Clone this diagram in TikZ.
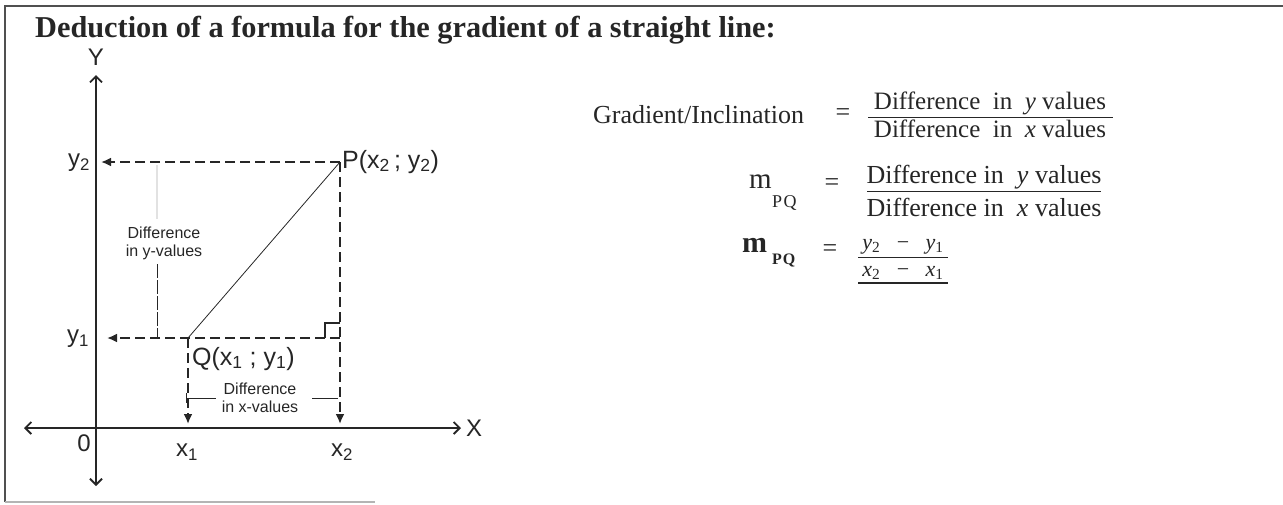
\documentclass[tikz,border=0pt]{standalone}
\usepackage{fontspec}
\setmainfont{Liberation Serif}
\newfontfamily\diagfont{Liberation Sans}
\usetikzlibrary{arrows.meta,positioning}
\definecolor{inkgrey}{HTML}{262626}
\definecolor{framegrey}{HTML}{505050}
\definecolor{fadegrey}{HTML}{E2E2E2}
\definecolor{edgegrey}{HTML}{B4B4B4}

\begin{document}
\begin{tikzpicture}[x=1pt, y=-1pt,
    every node/.style={text=inkgrey, inner sep=0pt},
    axislabel/.style={font=\diagfont\fontsize{24}{26}\selectfont},
    pointlabel/.style={font=\diagfont\fontsize{25}{27}\selectfont, anchor=base west},
    notelabel/.style={font=\diagfont\fontsize{16}{18}\selectfont, align=center},
    eqtext/.style={font=\fontsize{25}{28}\selectfont, anchor=base},
    axisline/.style={line width=1.8pt, inkgrey,
        {Straight Barb[length=6pt,width=12pt]}-{Straight Barb[length=6pt,width=12pt]}},
    dashline/.style={line width=2.3pt, inkgrey, dash pattern=on 10pt off 5pt,
        -{Latex[length=10pt,width=9pt]}},
    leader/.style={line width=0.8pt, inkgrey},
    fracbar/.style={line width=1pt, inkgrey},
]
\useasboundingbox (0,0) rectangle (1283,504);

% Frame
\draw[framegrey, line width=2.2pt] (5,502) -- (5,6) -- (1283,6);
\draw[edgegrey, line width=1.5pt] (5,502) -- (375,502);

% Heading
\node[anchor=base west, font=\bfseries\fontsize{30.3}{33}\selectfont] (title) at (35,37)
    {Deduction of a formula for the gradient of a straight line:};

% Axes
\coordinate (O) at (96,428);
\coordinate (ytop) at (96,75);
\coordinate (ybot) at (96,486);
\coordinate (xleft) at (24,428);
\coordinate (xright) at (461,428);
\draw[axisline] (ybot) -- (ytop);
\draw[axisline] (xleft) -- (xright);
\node[axislabel] (ylab) at (96,57) {Y};
\node[axislabel] (xlab) at (474,428) {X};
\node[axislabel] (olab) at (84,443) {0};

% Points and projections
\coordinate (P) at (340,162);
\coordinate (Q) at (188,338);
\coordinate (R) at (340,338);
\coordinate (y2tip) at (101,162);
\coordinate (y1tip) at (107,338);
\coordinate (x2tip) at (340,424);
\coordinate (x1tip) at (188,424);
\draw[dashline] (P) -- (y2tip);
\draw[dashline] (R) -- (y1tip);
\draw[dashline] (P) -- (x2tip);
\draw[dashline] (Q) -- (x1tip);
\draw[line width=0.8pt, inkgrey] (Q) -- (P);
\draw[line width=1.6pt, inkgrey] ([shift={(-15,0)}]R) -- ([shift={(-15,-15)}]R) -- ([shift={(0,-15)}]R);

\node[axislabel] (y2lab) at (79,163) {y\textsubscript{2}};
\node[axislabel] (y1lab) at (78,339) {y\textsubscript{1}};
\node[axislabel] (x1lab) at (187,452) {x\textsubscript{1}};
\node[axislabel] (x2lab) at (342,452) {x\textsubscript{2}};
\node[pointlabel] (plab) at (342,168) {P(x\textsubscript{2}\,; y\textsubscript{2})};
\node[pointlabel] (qlab) at (192,365) {Q(x\textsubscript{1} ; y\textsubscript{1})};

% Difference notes
\node[notelabel] (dylab) at (164,243) {Difference\\in y-values};
\coordinate (dytop) at (157,165);
\coordinate (dymid) at (157,219);
\coordinate (dylow) at (157,264);
\coordinate (dyend) at (157,338);
\draw[fadegrey, line width=1.5pt] (dytop) -- (dymid);
\draw[leader, dash pattern=on 14pt off 2pt] (dylow) -- (dyend);

\node[notelabel] (dxlab) at (260,398) {Difference\\in x-values};
\coordinate (dxa) at (186,398);
\coordinate (dxb) at (216,398);
\coordinate (dxc) at (312,398);
\coordinate (dxd) at (338,398);
\draw[leader] (dxa) -- (dxb);
\draw[leader] ([shift={(0,-5)}]dxa) -- ([shift={(0,5)}]dxa);
\draw[leader] (dxc) -- (dxd);

% Gradient formula
\node[eqtext, anchor=base west, font=\fontsize{26}{28}\selectfont] (grad) at (593,123) {Gradient/Inclination};
\node[font=\fontsize{26}{28}\selectfont] (eq1) at (843,115) {=};
\node[eqtext] (num1) at (990,109) {Difference\ \ in\ \ \textit{y} values};
\node[eqtext] (den1) at (990,137) {Difference\ \ in\ \ \textit{x} values};
\draw[fracbar] (868,117) -- (1113,117);

\node[anchor=base west, font=\fontsize{29}{31}\selectfont] (m1) at (749,188) {m};
\node[anchor=base west, font=\fontsize{18}{20}\selectfont] (pq1) at (772,207) {P\hspace{1.5pt}Q};
\node[font=\fontsize{26}{28}\selectfont] (eq2) at (832,185) {=};
\node[eqtext, font=\fontsize{26}{28}\selectfont] (num2) at (984,183) {Difference in \ \textit{y} values};
\node[eqtext, font=\fontsize{26}{28}\selectfont] (den2) at (984,216) {Difference in \ \textit{x} values};
\draw[fracbar] (867,191) -- (1101,191);

\node[anchor=base west, font=\bfseries\fontsize{30}{32}\selectfont] (m2) at (742,252) {m};
\node[anchor=base west, font=\bfseries\fontsize{16}{18}\selectfont] (pq2) at (772,264) {P\hspace{1pt}Q};
\node[font=\fontsize{26}{28}\selectfont] (eq3) at (830,251) {=};
\node[eqtext, font=\fontsize{22}{24}\selectfont] (num3) at (903,249) {\textit{y}\textsubscript{2}\ \ \ −\ \ \ \textit{y}\textsubscript{1}};
\node[eqtext, font=\fontsize{22}{24}\selectfont] (den3) at (903,276) {\textit{x}\textsubscript{2}\ \ \ −\ \ \ \textit{x}\textsubscript{1}};
\draw[fracbar] (858,257) -- (948,257);
\draw[line width=2.2pt, inkgrey] (858,283) -- (948,283);

\end{tikzpicture}
\end{document}
